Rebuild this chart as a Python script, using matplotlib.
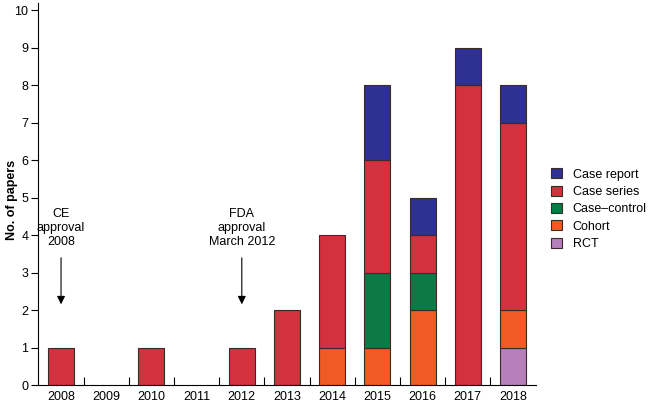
## stacked bars of papers per year by study design

import numpy as np
from matplotlib import pyplot as plt

years = ['2008', '2009', '2010', '2011', '2012', '2013', '2014', '2015', '2016', '2017', '2018']
rct          = [0, 0, 0, 0, 0, 0, 0, 0, 0, 0, 1]
cohort       = [0, 0, 0, 0, 0, 0, 1, 1, 2, 0, 1]
case_control = [0, 0, 0, 0, 0, 0, 0, 2, 1, 0, 0]
case_series  = [1, 0, 1, 0, 1, 2, 3, 3, 1, 8, 5]
case_report  = [0, 0, 0, 0, 0, 0, 0, 2, 1, 1, 1]

## bottom to top
series = [('RCT', rct, '#b57fbc'),
          ('Cohort', cohort, '#f05a24'),
          ('Case\u2013control', case_control, '#0b7a45'),
          ('Case series', case_series, '#d2313d'),
          ('Case report', case_report, '#2e3192')]

plt.rcParams['font.family'] = ['Liberation Sans', 'DejaVu Sans']

fig = plt.figure(figsize=(6.51, 4.04), dpi=100)
ax = fig.add_axes([38/651, 19/404, (536-38)/651, (401-19)/404])

x = np.arange(len(years))
bottom = np.zeros(len(years))
handles = []
for name, vals, col in series:
    vals = np.array(vals, dtype=float)
    nz = vals > 0
    ## skip empty segments so no flat outline is drawn
    ax.bar(x[nz], vals[nz], 0.575, bottom=bottom[nz], color=col,
           edgecolor='#3a2a2a', linewidth=0.8)
    handles.append(plt.Rectangle((0, 0), 1, 1, facecolor=col,
                                 edgecolor='#3a2a2a', linewidth=0.8))
    bottom += vals

ax.set_ylim(0, 10.2)
ax.set_xlim(-0.51, len(years) - 0.49)
ax.set_yticks(range(11))
ax.set_xticks(x)
ax.set_xticklabels(years)
ax.set_xticks(x[:-1] + 0.5, minor=True)
ax.tick_params(axis='x', which='major', length=0, labelsize=9, pad=4)
ax.tick_params(axis='x', which='minor', direction='in', length=6, width=0.8)
ax.tick_params(axis='y', direction='out', length=5, width=0.8, labelsize=9, pad=2)
ax.spines['top'].set_visible(False)
ax.spines['right'].set_visible(False)
ax.spines['left'].set_linewidth(0.8)
ax.spines['bottom'].set_linewidth(0.8)
fig.text(12/651, 1 - 200/404, 'No. of papers', rotation=90, ha='center', va='center',
         fontsize=9, fontweight='bold')

## approval annotations
ax.text(0, 4.2, 'CE\napproval\n2008', ha='center', va='center', fontsize=9,
        linespacing=1.2)
ax.annotate('', xy=(0, 2.08), xytext=(0, 3.47),
            arrowprops=dict(arrowstyle='-|>', color='black', lw=0.8,
                            mutation_scale=12))
ax.text(4, 4.2, 'FDA\napproval\nMarch 2012', ha='center', va='center', fontsize=9,
        linespacing=1.2)
ax.annotate('', xy=(4, 2.08), xytext=(4, 3.47),
            arrowprops=dict(arrowstyle='-|>', color='black', lw=0.8,
                            mutation_scale=12))

ax.legend(handles[::-1], [s[0] for s in series][::-1], loc='center left',
          bbox_to_anchor=(1.02, 0.46), borderaxespad=0, frameon=False, fontsize=9,
          handlelength=0.85, handleheight=0.85, handletextpad=0.9, labelspacing=0.4)

plt.savefig('out.png', dpi=100)
